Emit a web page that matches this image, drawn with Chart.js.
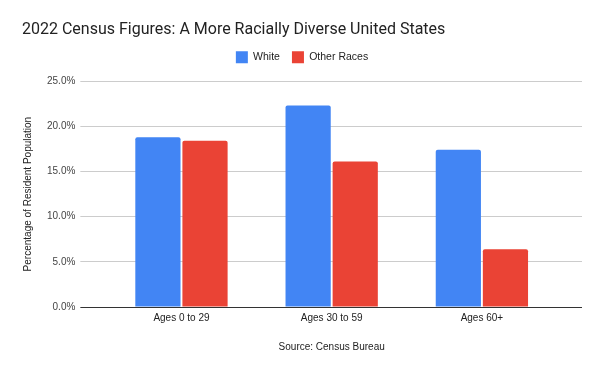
<!DOCTYPE html>
<html>
<head>
<meta charset="utf-8">
<script src="https://cdn.jsdelivr.net/npm/chart.js@4"></script>
<style>
  html, body { margin: 0; padding: 0; background: #fff; }
  #wrap { width: 600px; height: 371px; }
</style>
</head>
<body>
<div id="wrap"><canvas id="censusChart"></canvas></div>
<script>
// Chart data
const categories = ['Ages 0 to 29', 'Ages 30 to 59', 'Ages 60+'];
const whiteValues = [18.8, 22.3, 17.4];
const otherValues = [18.4, 16.1, 6.4];
const yTicks = [0, 5, 10, 15, 20, 25];

// zero line is dark, the rest light grey
const gridColor = ctx => (ctx.tick && ctx.tick.value === 0 ? '#333333' : '#cccccc');

// push the plot a bit further below the legend
const legendGap = {
  id: 'legendGap',
  beforeLayout(chart) {
    const legend = chart.legend;
    if (legend && !legend._gapPatched) {
      const fit = legend.fit;
      legend.fit = function() {
        fit.call(this);
        this.height += 8;
      };
      legend._gapPatched = true;
    }
  }
};

new Chart(document.getElementById('censusChart'), {
  type: 'bar',
  data: {
    labels: categories,
    datasets: [
      {
        label: 'White',
        data: whiteValues,
        backgroundColor: '#4285f4',
        borderRadius: { topLeft: 2, topRight: 2 },
        borderSkipped: 'bottom',
        barPercentage: 0.96,
        categoryPercentage: 0.627
      },
      {
        label: 'Other Races',
        data: otherValues,
        backgroundColor: '#ea4335',
        borderRadius: { topLeft: 2, topRight: 2 },
        borderSkipped: 'bottom',
        barPercentage: 0.96,
        categoryPercentage: 0.627
      }
    ]
  },
  options: {
    responsive: true,
    maintainAspectRatio: false,
    animation: false,
    layout: { padding: { left: 22, right: 18, top: 0, bottom: 18 } },
    plugins: {
      title: {
        display: true,
        text: '2022 Census Figures: A More Racially Diverse United States',
        align: 'start',
        color: '#222222',
        font: { family: 'Roboto, Arial, sans-serif', size: 16, weight: 'normal' },
        padding: { top: 20, bottom: 0 }
      },
      legend: {
        position: 'top',
        labels: {
          boxWidth: 12,
          boxHeight: 12,
          color: '#222222',
          font: { family: 'Arial, sans-serif', size: 10.5 },
          padding: 12
        }
      },
      tooltip: { enabled: false }
    },
    scales: {
      x: {
        grid: { display: false, drawTicks: false },
        border: { display: false },
        ticks: {
          color: '#222222',
          font: { family: 'Arial, sans-serif', size: 10 },
          padding: 5
        },
        title: {
          display: true,
          text: 'Source: Census Bureau',
          color: '#222222',
          font: { family: 'Arial, sans-serif', size: 10 },
          padding: { top: 12, bottom: 0 }
        }
      },
      y: {
        min: 0,
        max: 25,
        afterBuildTicks: axis => { axis.ticks = yTicks.map(v => ({ value: v })); },
        grid: { color: gridColor, tickColor: gridColor, tickLength: 26 },
        border: { display: false },
        ticks: {
          color: '#444444',
          font: { family: 'Arial, sans-serif', size: 10 },
          padding: 5,
          callback: v => v.toFixed(1) + '%'
        },
        title: {
          display: true,
          text: 'Percentage of Resident Population',
          color: '#222222',
          font: { family: 'Arial, sans-serif', size: 10 },
          padding: { top: 0, bottom: 8 }
        }
      },
      y2: {
        position: 'right',
        min: 0,
        max: 25,
        afterBuildTicks: axis => { axis.ticks = yTicks.map(v => ({ value: v })); },
        grid: { drawOnChartArea: false, tickColor: gridColor, tickLength: 25 },
        border: { display: false },
        ticks: { display: false }
      }
    }
  },
  plugins: [legendGap]
});
</script>
</body>
</html>
